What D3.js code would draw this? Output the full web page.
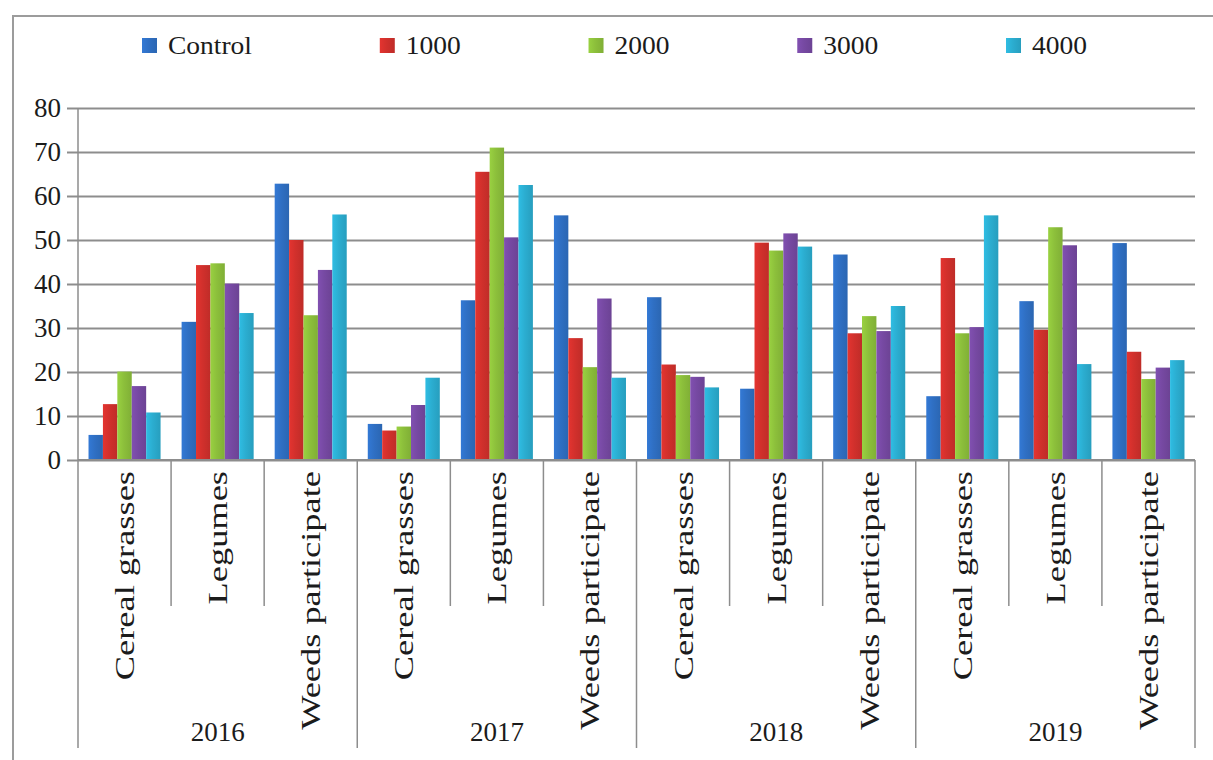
<!DOCTYPE html>
<html>
<head>
<meta charset="utf-8">
<script src="https://cdn.jsdelivr.net/npm/d3@7"></script>
<style>
  body { margin: 0; background: #fff; }
  svg text { font-family: "Liberation Serif", "Times New Roman", serif !important; fill: #1b1b1b; }
</style>
</head>
<body>
<svg id="chart" width="1213" height="760"></svg>
<script>
// ---- data -------------------------------------------------------------
const years = ["2016", "2017", "2018", "2019"];
const groups = ["Cereal grasses", "Legumes", "Weeds participate"];
const seriesNames = ["Control", "1000", "2000", "3000", "4000"];
const seriesColors = ["#2f6fc3", "#d1302c", "#8cbf3b", "#7649a2", "#2badd0"];
const yTicks = [0, 10, 20, 30, 40, 50, 60, 70, 80];

// one value per year/group, ordered 2016 (cereal, legumes, weeds), 2017 ..., 2019
const control  = [5.7, 31.4, 62.8,  8.2, 36.3, 55.6,  37.0, 16.2, 46.7,  14.5, 36.1, 49.3];
const dose1000 = [12.7, 44.3, 50.0,  6.7, 65.5, 27.7,  21.7, 49.4, 28.8,  45.9, 29.6, 24.6];
const dose2000 = [20.1, 44.7, 32.9,  7.6, 71.0, 21.1,  19.3, 47.6, 32.7,  28.8, 52.9, 18.4];
const dose3000 = [16.8, 40.1, 43.2,  12.5, 50.6, 36.7,  18.9, 51.5, 29.3,  30.2, 48.8, 21.0];
const dose4000 = [10.8, 33.4, 55.8,  18.7, 62.5, 18.7,  16.5, 48.5, 35.0,  55.6, 21.8, 22.7];
const seriesValues = [control, dose1000, dose2000, dose3000, dose4000];

// ---- layout -----------------------------------------------------------
const serif = '"Liberation Serif", "Times New Roman", serif';
const svg = d3.select("#chart");
const plot = { left: 78, right: 1195, top: 108, bottom: 460 };
const gridColor = "#8d8d8d";

const keys = years.flatMap(yr => groups.map(g => yr + "|" + g));
const rows = keys.map((k, i) => ({
  key: k, year: k.split("|")[0], group: k.split("|")[1],
  values: seriesNames.map((s, j) => ({ series: s, idx: j, value: seriesValues[j][i] }))
}));

const y = d3.scaleLinear().domain([0, 80]).range([plot.bottom, plot.top]);
const x0 = d3.scaleBand().domain(keys).range([plot.left, plot.right]).padding(0);
const x1 = d3.scaleBand().domain(seriesNames).range([0, x0.bandwidth()])
  .paddingInner(0).paddingOuter(0.73);

// outer frame
svg.append("rect")
  .attr("x", 13).attr("y", 16).attr("width", 1400).attr("height", 900)
  .attr("fill", "none").attr("stroke", "#9c9c9c").attr("stroke-width", 2);

// gradients for the bars
const defs = svg.append("defs");
seriesNames.forEach((s, i) => {
  const c = d3.color(seriesColors[i]);
  const g = defs.append("linearGradient").attr("id", "grad" + i)
    .attr("x1", 0).attr("x2", 1).attr("y1", 0).attr("y2", 0);
  g.append("stop").attr("offset", "0%").attr("stop-color", c.brighter(0.25));
  g.append("stop").attr("offset", "45%").attr("stop-color", c);
  g.append("stop").attr("offset", "100%").attr("stop-color", c.darker(0.25));
});

// horizontal gridlines
const grid = svg.append("g")
  .attr("transform", `translate(${plot.left},0)`)
  .call(d3.axisLeft(y).tickValues(yTicks).tickSize(-(plot.right - plot.left)).tickFormat(""));
grid.select(".domain").remove();
grid.selectAll(".tick line").attr("stroke", gridColor).attr("stroke-width", 2);

// y axis with short outer ticks and labels
const yAxis = svg.append("g")
  .attr("transform", `translate(${plot.left},0)`)
  .call(d3.axisLeft(y).tickValues(yTicks).tickSize(11).tickSizeOuter(0).tickPadding(6));
yAxis.attr("font-family", serif).attr("font-size", 27);
yAxis.select(".domain").remove();
yAxis.selectAll(".tick line").attr("stroke", gridColor).attr("stroke-width", 2);
yAxis.selectAll(".tick text")
  .attr("font-family", serif)
  .style("font-family", serif)
  .style("font-size", "27px").attr("fill", "#1b1b1b");

// bars
const groupSel = svg.append("g").selectAll("g").data(rows).join("g")
  .attr("transform", d => `translate(${x0(d.key)},0)`);
groupSel.selectAll("rect").data(d => d.values).join("rect")
  .attr("x", d => x1(d.series))
  .attr("width", x1.bandwidth())
  .attr("y", d => y(d.value))
  .attr("height", d => y(0) - y(d.value))
  .attr("fill", d => `url(#grad${d.idx})`);

// baseline and vertical separators under the plot
svg.append("line")
  .attr("x1", plot.left).attr("x2", plot.right)
  .attr("y1", y(0)).attr("y2", y(0))
  .attr("stroke", gridColor).attr("stroke-width", 2);

svg.append("line")
  .attr("x1", plot.left).attr("x2", plot.left)
  .attr("y1", plot.top).attr("y2", y(0))
  .attr("stroke", gridColor).attr("stroke-width", 1.5);

const bounds = d3.range(keys.length + 1).map(i => plot.left + i * x0.step());
svg.append("g").selectAll("line").data(bounds).join("line")
  .attr("x1", d => d).attr("x2", d => d)
  .attr("y1", y(0))
  .attr("y2", (d, i) => i % groups.length === 0 ? 748 : 606)
  .attr("stroke", gridColor).attr("stroke-width", 1.5);

// category labels, rotated
svg.append("g").selectAll("text").data(rows).join("text")
  .attr("transform", d => `translate(${x0(d.key) + x0.bandwidth() / 2},471) rotate(-90) scale(1.3,1)`)
  .attr("text-anchor", "end")
  .attr("dy", "0.34em")
  .style("font-family", serif)
  .style("font-size", "28px")
  .text(d => d.group);

// year labels
const yearScale = d3.scaleBand().domain(years).range([plot.left, plot.right]);
svg.append("g").selectAll("text").data(years).join("text")
  .attr("x", d => yearScale(d) + yearScale.bandwidth() / 2)
  .attr("y", 735)
  .attr("text-anchor", "middle")
  .attr("dominant-baseline", "middle")
  .style("font-family", serif)
  .style("font-size", "27px")
  .text(d => d);

// legend: entries spread between a left start and a right end
const legend = svg.append("g");
const legendStart = 142, legendEnd = 1087, swatchGap = 26, stretch = 1.1;
const entries = seriesNames.map((s, i) => {
  const t = legend.append("text")
    .style("font-family", serif)
    .style("font-size", "25px")
    .text(s);
  return { s, i, t, w: t.node().getComputedTextLength() * stretch };
});
const used = d3.sum(entries, e => swatchGap + e.w);
const spacing = (legendEnd - legendStart - used) / (entries.length - 1);
let lx = legendStart;
entries.forEach(e => {
  legend.append("rect")
    .attr("x", lx).attr("y", 38).attr("width", 15).attr("height", 15)
    .attr("fill", `url(#grad${e.i})`);
  e.t.attr("transform", `translate(${lx + swatchGap},54) scale(${stretch},1)`);
  lx += swatchGap + e.w + spacing;
});
</script>
</body>
</html>
